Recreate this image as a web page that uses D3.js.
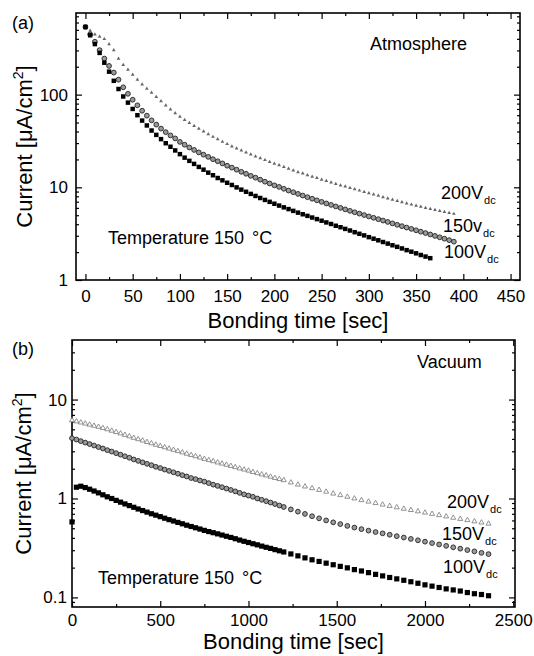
<!DOCTYPE html>
<html>
<head>
<meta charset="utf-8">
<script src="https://d3js.org/d3.v7.min.js"></script>
<style>
body { margin: 0; background: #fff; }
svg text { font-family: "Liberation Sans", Arial, Helvetica, sans-serif; fill: #000; }
</style>
</head>
<body>
<div id="chart"></div>
<script>
// ---- (a) atmosphere: current [uA/cm2] sampled every 5 sec ----
var timesAtm = [0,5,10,15,20,25,30,35,40,45,50,55,60,65,70,75,80,85,90,95,
    100,105,110,115,120,125,130,135,140,145,150,155,160,165,170,175,180,185,190,195,
    200,205,210,215,220,225,230,235,240,245,250,255,260,265,270,275,280,285,290,295,
    300,305,310,315,320,325,330,335,340,345,350,355,360,365,370,375,380,385,390];

var atm100 = [537,437,351,282,221,177,141,115,95.5,82,
    70.1,60,52.5,46.5,41,36.8,33.1,29.9,27.4,25,
    22.8,20.9,19.3,17.9,16.6,15.5,14.4,13.5,12.6,11.9,
    11.2,10.6,9.98,9.44,8.95,8.49,8.07,7.67,7.31,6.97,
    6.65,6.35,6.08,5.82,5.57,5.33,5.12,4.92,4.72,4.54,
    4.36,4.18,4.02,3.85,3.71,3.56,3.42,3.28,3.15,3.03,
    2.90,2.79,2.68,2.57,2.47,2.37,2.28,2.19,2.10,2.02,
    1.94,1.86,1.79,1.72];

var atm150 = [537,447,372,302,245,204,173,145,120,102,
    88.1,76.7,67,59.3,52.8,47.5,43,39.4,36.3,33.7,
    30.9,28.8,26.9,25.3,23.8,22.5,21.3,20.1,19.1,18.1,
    17.1,16.3,15.5,14.7,14.0,13.3,12.7,12.1,11.5,11.0,
    10.5,10.1,9.64,9.23,8.85,8.49,8.15,7.83,7.53,7.24,
    6.97,6.70,6.46,6.22,6.0,5.78,5.57,5.38,5.20,5.02,
    4.85,4.69,4.53,4.38,4.23,4.08,3.94,3.81,3.68,3.56,
    3.44,3.32,3.21,3.10,2.99,2.89,2.79,2.69,2.59];

var atm200 = [537,490,447,422,398,351,302,245,209,186,
    164,145,129,116,105,94.4,85.1,76.7,69.2,63.1,
    57.9,53.5,49.5,46,42.9,40,37.4,35.1,33,31,
    29.3,27.7,26.3,25,23.8,22.6,21.6,20.6,19.7,18.8,
    18.0,17.3,16.6,15.9,15.2,14.6,14.1,13.5,13.0,12.6,
    12.1,11.7,11.3,10.9,10.5,10.2,9.84,9.53,9.23,8.93,
    8.65,8.38,8.11,7.85,7.60,7.36,7.13,6.92,6.71,6.52,
    6.34,6.17,6.0,5.85,5.70,5.56,5.42,5.30,5.18];

// ---- (b) vacuum ----
var timesVac = [0,25,50,75,100,125,150,175,200,225,250,275,300,325,350,375,400,425,450,475,
    500,525,550,575,600,625,650,675,700,725,750,775,800,825,850,875,900,925,950,975,
    1000,1025,1050,1075,1100,1125,1150,1175,1200,
    1240,1280,1320,1360,1400,1440,1480,1520,1560,1600,1640,1680,1720,1760,1800,
    1840,1880,1920,1960,2000,2040,2080,2120,2160,2200,2240,2280,2320,2360];

var vac100 = [0.58,1.30,1.33,1.29,1.24,1.19,1.14,1.09,1.04,1.0,
    0.957,0.918,0.881,0.847,0.815,0.783,0.755,0.728,0.701,0.678,
    0.655,0.632,0.611,0.592,0.573,0.555,0.537,0.521,0.506,0.491,
    0.476,0.463,0.451,0.439,0.427,0.415,0.404,0.392,0.380,0.369,
    0.359,0.349,0.340,0.330,0.321,0.313,0.304,0.296,0.288,
    0.275,0.263,0.251,0.240,0.231,0.222,0.214,0.206,0.199,0.191,
    0.185,0.178,0.171,0.165,0.159,0.154,0.149,0.144,0.139,0.134,
    0.130,0.126,0.122,0.119,0.116,0.112,0.109,0.107,0.104];

var vac150 = [4.07,3.94,3.80,3.67,3.55,3.43,3.31,3.20,3.08,2.98,
    2.87,2.77,2.67,2.58,2.48,2.40,2.32,2.24,2.17,2.09,
    2.03,1.96,1.90,1.84,1.78,1.72,1.67,1.61,1.57,1.52,
    1.48,1.43,1.38,1.34,1.30,1.26,1.22,1.18,1.14,1.10,
    1.07,1.04,1.0,0.97,0.94,0.91,0.879,0.849,0.820,
    0.776,0.736,0.698,0.662,0.630,0.600,0.574,0.551,0.528,0.508,
    0.490,0.473,0.458,0.444,0.430,0.416,0.403,0.390,0.378,0.366,
    0.354,0.343,0.332,0.321,0.311,0.301,0.292,0.282,0.274];

var vac200 = [6.17,6.01,5.86,5.71,5.57,5.43,5.30,5.15,5.0,4.84,
    4.69,4.54,4.39,4.25,4.10,3.97,3.85,3.72,3.61,3.49,
    3.39,3.29,3.19,3.10,3.01,2.92,2.83,2.75,2.67,2.59,
    2.51,2.44,2.38,2.31,2.25,2.19,2.13,2.07,2.01,1.96,
    1.91,1.85,1.80,1.75,1.71,1.66,1.61,1.57,1.53,
    1.45,1.38,1.32,1.27,1.22,1.17,1.12,1.08,1.04,1.0,
    0.962,0.929,0.897,0.867,0.839,0.813,0.787,0.764,0.741,0.719,
    0.698,0.678,0.658,0.638,0.621,0.604,0.587,0.571,0.556];

// ticks
var xTicksAtm = [0,50,100,150,200,250,300,350,400,450];
var xMinorAtm = [25,75,125,175,225,275,325,375,425];
var yTicksAtm = [1,10,100];
var xTicksVac = [0,500,1000,1500,2000,2500];
var xMinorVac = [250,750,1250,1750,2250];
var yTicksVac = [0.1,1,10];

var svg = d3.select("#chart").append("svg")
    .attr("width", 534)
    .attr("height", 656);

function logMinors(domain) {
    // 2..9 in every decade inside the domain
    var out = [];
    for (var e = -3; e <= 3; e++) {
        for (var m = 2; m <= 9; m++) {
            var v = m * Math.pow(10, e);
            if (v > domain[0] && v < domain[1]) out.push(v);
        }
    }
    return out;
}

function styleAxis(g, size) {
    g.select(".domain").remove();
    g.selectAll("line").attr("stroke", "#000").attr("stroke-width", 1.2);
    g.selectAll("text")
        .attr("font-size", size)
        .attr("font-family", "'Liberation Sans', Arial, sans-serif");
}

function drawPanel(p) {
    var g = svg.append("g");

    var x = d3.scaleLinear().domain(p.xDomain).range([p.left, p.right]);
    var y = d3.scaleLog().domain(p.yDomain).range([p.bottom, p.top]);

    // major + minor ticks on all four sides, pointing in
    g.append("g").attr("transform", "translate(0," + p.bottom + ")")
        .call(d3.axisBottom(x).tickValues(p.xTicks).tickSizeInner(-6).tickSizeOuter(0)
            .tickPadding(p.xPad).tickFormat(d3.format("d")))
        .call(styleAxis, 17);
    g.append("g").attr("transform", "translate(0," + p.bottom + ")")
        .call(d3.axisBottom(x).tickValues(p.xMinor).tickSizeInner(-3).tickSizeOuter(0).tickFormat(""))
        .call(styleAxis, 17);
    g.append("g").attr("transform", "translate(0," + p.top + ")")
        .call(d3.axisTop(x).tickValues(p.xTicks).tickSizeInner(-6).tickSizeOuter(0).tickFormat(""))
        .call(styleAxis, 17);
    g.append("g").attr("transform", "translate(0," + p.top + ")")
        .call(d3.axisTop(x).tickValues(p.xMinor).tickSizeInner(-3).tickSizeOuter(0).tickFormat(""))
        .call(styleAxis, 17);

    var minors = logMinors(p.yDomain);
    g.append("g").attr("transform", "translate(" + p.left + ",0)")
        .call(d3.axisLeft(y).tickValues(p.yTicks).tickSizeInner(-6).tickSizeOuter(0)
            .tickPadding(p.yPad).tickFormat(function(d) { return String(d); }))
        .call(styleAxis, 17);
    g.append("g").attr("transform", "translate(" + p.left + ",0)")
        .call(d3.axisLeft(y).tickValues(minors).tickSizeInner(-3).tickSizeOuter(0).tickFormat(""))
        .call(styleAxis, 17);
    g.append("g").attr("transform", "translate(" + p.right + ",0)")
        .call(d3.axisRight(y).tickValues(p.yTicks).tickSizeInner(-6).tickSizeOuter(0).tickFormat(""))
        .call(styleAxis, 17);
    g.append("g").attr("transform", "translate(" + p.right + ",0)")
        .call(d3.axisRight(y).tickValues(minors).tickSizeInner(-3).tickSizeOuter(0).tickFormat(""))
        .call(styleAxis, 17);

    // frame
    g.append("rect")
        .attr("x", p.left).attr("y", p.top)
        .attr("width", p.right - p.left).attr("height", p.bottom - p.top)
        .attr("fill", "none").attr("stroke", "#000").attr("stroke-width", 1.6);

    // series, drawn back to front
    p.series.forEach(function(s) {
        var pts = s.values.map(function(v, i) { return [p.times[i], v]; });
        g.append("g").selectAll("path")
            .data(pts)
            .enter().append("path")
            .attr("transform", function(d) { return "translate(" + x(d[0]) + "," + y(d[1]) + ")"; })
            .attr("d", d3.symbol().type(s.shape).size(s.size))
            .attr("fill", s.fill)
            .attr("stroke", s.stroke)
            .attr("stroke-width", s.sw);
    });

    // axis titles
    g.append("text")
        .attr("x", (p.left + p.right) / 2).attr("y", p.xTitleY)
        .attr("text-anchor", "middle").attr("font-size", 22)
        .text("Bonding time [sec]");

    var yt = g.append("text")
        .attr("transform", "translate(" + p.yTitleX + "," + (p.top + p.bottom) / 2 + ") rotate(-90)")
        .attr("text-anchor", "middle").attr("font-size", 22);
    yt.append("tspan").text("Current [\u03bcA/cm");
    yt.append("tspan").attr("font-size", 14).attr("dy", -9).text("2");
    yt.append("tspan").attr("dy", 9).text("]");

    // panel annotations
    g.append("text").attr("x", 12).attr("y", p.tagY).attr("font-size", 18).text(p.tag);
    g.append("text").attr("x", p.envX).attr("y", p.envY).attr("font-size", 18).text(p.env);
    var tt = g.append("text").attr("x", p.tempX).attr("y", p.tempY).attr("font-size", 18);
    tt.append("tspan").text("Temperature 150 ");
    tt.append("tspan").attr("dx", 3).text("\u00b0C");

    p.labels.forEach(function(l) {
        var t = g.append("text").attr("x", l.x).attr("y", l.y).attr("font-size", 18);
        t.append("tspan").text(l.text);
        t.append("tspan").attr("font-size", 11).attr("dy", 5).attr("dx", 1).text("dc");
    });
}

var triStyleA = {shape: d3.symbolTriangle, size: 6, fill: "#666", stroke: "none", sw: 0};
var cirStyle = {shape: d3.symbolCircle, size: 18, fill: "#9a9a9a", stroke: "#222", sw: 0.9};
var sqStyle = {shape: d3.symbolSquare, size: 20, fill: "#000", stroke: "none", sw: 0};
var sqStyleB = {shape: d3.symbolSquare, size: 27, fill: "#000", stroke: "none", sw: 0};
var triStyleB = {shape: d3.symbolTriangle, size: 11, fill: "#fff", stroke: "#777", sw: 0.8};

function withValues(style, values) {
    return Object.assign({}, style, {values: values});
}

drawPanel({
    left: 76, right: 520, top: 13, bottom: 280,
    xDomain: [-10, 460], yDomain: [1, 760],
    xTicks: xTicksAtm, xMinor: xMinorAtm, yTicks: yTicksAtm,
    xPad: 10, yPad: 8,
    times: timesAtm,
    series: [withValues(triStyleA, atm200), withValues(cirStyle, atm150), withValues(sqStyle, atm100)],
    xTitleY: 328, yTitleX: 32,
    tag: "(a)", tagY: 29,
    env: "Atmosphere", envX: 370, envY: 50,
    tempX: 108, tempY: 244,
    labels: [{text: "200V", x: 441, y: 199}, {text: "150v", x: 443, y: 232}, {text: "100V", x: 444, y: 258}]
});

drawPanel({
    left: 72, right: 515, top: 340, bottom: 607,
    xDomain: [0, 2510], yDomain: [0.08, 40],
    xTicks: xTicksVac, xMinor: xMinorVac, yTicks: yTicksVac,
    xPad: 7, yPad: 5,
    times: timesVac,
    series: [withValues(triStyleB, vac200), withValues(cirStyle, vac150), withValues(sqStyleB, vac100)],
    xTitleY: 649, yTitleX: 31,
    tag: "(b)", tagY: 355,
    env: "Vacuum", envX: 417, envY: 368,
    tempX: 98, tempY: 584,
    labels: [{text: "200V", x: 447, y: 508}, {text: "150V", x: 442, y: 540}, {text: "100V", x: 443, y: 573}]
});
</script>
</body>
</html>
